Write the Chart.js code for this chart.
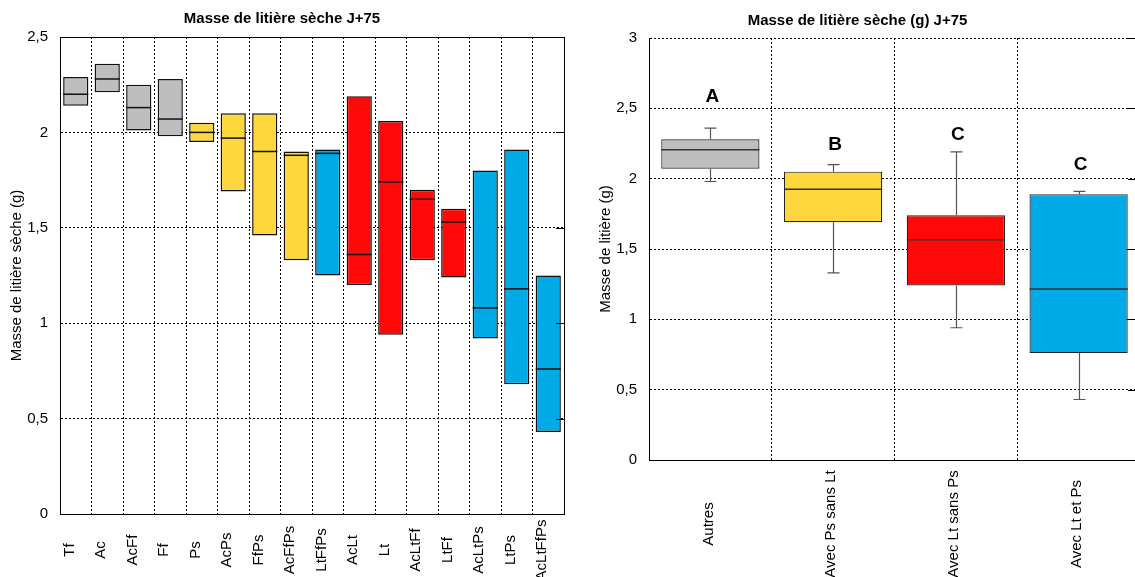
<!DOCTYPE html>
<html lang="fr">
<head>
<meta charset="utf-8">
<script src="https://cdn.jsdelivr.net/npm/chart.js@4.4.0/dist/chart.umd.min.js"></script>
<style>
  html, body { margin: 0; padding: 0; background: #fff; overflow: hidden; width: 1135px; height: 577px; }
  #gauche { position: absolute; left: 0; top: 0; }
  #droite { position: absolute; left: 575px; top: 0; }
</style>
</head>
<body>
<canvas id="gauche" width="575" height="577"></canvas>
<canvas id="droite" width="570" height="577"></canvas>
<script>
// graphique de gauche : min / max / mediane par traitement
const traitements = ['Tf', 'Ac', 'AcFf', 'Ff', 'Ps', 'AcPs', 'FfPs', 'AcFfPs', 'LtFfPs', 'AcLt', 'Lt', 'AcLtFf', 'LtFf', 'AcLtPs', 'LtPs', 'AcLtFfPs'];
const minis = [2.14, 2.21, 2.01, 1.98, 1.95, 1.69, 1.46, 1.33, 1.25, 1.20, 0.94, 1.33, 1.24, 0.92, 0.68, 0.43];
const maxis = [2.29, 2.36, 2.25, 2.28, 2.05, 2.10, 2.10, 1.90, 1.91, 2.19, 2.06, 1.70, 1.60, 1.80, 1.91, 1.25];
const medianes = [2.20, 2.28, 2.13, 2.07, 2.00, 1.97, 1.90, 1.88, 1.89, 1.36, 1.74, 1.65, 1.53, 1.08, 1.18, 0.76];
const groupes = ['gris', 'gris', 'gris', 'gris', 'jaune', 'jaune', 'jaune', 'jaune', 'bleu', 'rouge', 'rouge', 'rouge', 'rouge', 'bleu', 'bleu', 'bleu'];
const ticksGauche = ['0', '0,5', '1', '1,5', '2', '2,5'];

// graphique de droite : boites a moustaches par groupe
const categories = ['Autres', 'Avec Ps sans Lt', 'Avec Lt sans Ps', 'Avec Lt et Ps'];
const moustacheBas = [1.98, 1.33, 0.94, 0.43];
const q1 = [2.07, 1.69, 1.24, 0.76];
const med = [2.205, 1.925, 1.565, 1.215];
const q3 = [2.28, 2.05, 1.74, 1.89];
const moustacheHaut = [2.36, 2.10, 2.19, 1.91];
const lettres = ['A', 'B', 'C', 'C'];
const hauteurLettres = [2.58, 2.24, 2.31, 2.10];
const groupesDroite = ['gris', 'jaune', 'rouge', 'bleu'];
const ticksDroite = ['0', '0,5', '1', '1,5', '2', '2,5', '3'];

const couleurs = { gris: '#bebebe', jaune: '#fdd73c', rouge: '#ff0808', bleu: '#00aae6' };
const police = '"Liberation Sans", Arial, sans-serif';

// etiquettes de l'axe x, tournees et centrees sous l'axe
function etiquettesX(decalY, decalX) {
    return {
        id: 'etiquettesX',
        afterDraw(chart) {
            const ctx = chart.ctx;
            const xs = chart.scales.x;
            ctx.save();
            ctx.font = '15px ' + police;
            ctx.fillStyle = '#000';
            ctx.textAlign = 'center';
            ctx.textBaseline = 'middle';
            chart.data.labels.forEach((lab, i) => {
                ctx.save();
                ctx.translate(xs.getPixelForValue(i) + decalX, chart.chartArea.bottom + decalY);
                ctx.rotate(-Math.PI / 2);
                ctx.fillText(lab, 0, 0);
                ctx.restore();
            });
            ctx.restore();
        }
    };
}

// petits traits de graduation sur le bord droit
function graduationsDroite(longueur) {
    return {
        id: 'graduationsDroite',
        afterDatasetsDraw(chart) {
            const ctx = chart.ctx;
            const a = chart.chartArea;
            ctx.save();
            ctx.strokeStyle = '#000';
            ctx.lineWidth = 1;
            chart.scales.y.ticks.forEach(t => {
                const y = Math.round(chart.scales.y.getPixelForValue(t.value)) + 0.5;
                ctx.beginPath();
                ctx.moveTo(a.right - longueur, y);
                ctx.lineTo(a.right, y);
                ctx.stroke();
            });
            ctx.restore();
        }
    };
}

const medianesGauche = {
    id: 'medianesGauche',
    afterDatasetsDraw(chart) {
        const ctx = chart.ctx;
        const meta = chart.getDatasetMeta(0);
        const ys = chart.scales.y;
        ctx.save();
        ctx.strokeStyle = '#111';
        ctx.lineWidth = 1.5;
        meta.data.forEach((bar, i) => {
            const y = ys.getPixelForValue(medianes[i]);
            ctx.beginPath();
            ctx.moveTo(bar.x - bar.width / 2, y);
            ctx.lineTo(bar.x + bar.width / 2, y);
            ctx.stroke();
        });
        // cadre
        const a = chart.chartArea;
        ctx.strokeStyle = '#000';
        ctx.lineWidth = 1;
        ctx.strokeRect(Math.round(a.left) + 0.5, Math.round(a.top) + 0.5, Math.round(a.width), Math.round(a.height));
        ctx.restore();
    }
};

const moustaches = {
    id: 'moustaches',
    afterDatasetsDraw(chart) {
        const ctx = chart.ctx;
        const meta = chart.getDatasetMeta(0);
        const ys = chart.scales.y;
        ctx.save();
        meta.data.forEach((bar, i) => {
            const x = Math.round(bar.x) + 0.5;
            ctx.strokeStyle = '#555';
            ctx.lineWidth = 1.2;
            ctx.beginPath();
            ctx.moveTo(x, ys.getPixelForValue(q3[i]));
            ctx.lineTo(x, ys.getPixelForValue(moustacheHaut[i]));
            ctx.moveTo(x, ys.getPixelForValue(q1[i]));
            ctx.lineTo(x, ys.getPixelForValue(moustacheBas[i]));
            ctx.moveTo(x - 6, ys.getPixelForValue(moustacheHaut[i]));
            ctx.lineTo(x + 6, ys.getPixelForValue(moustacheHaut[i]));
            ctx.moveTo(x - 6, ys.getPixelForValue(moustacheBas[i]));
            ctx.lineTo(x + 6, ys.getPixelForValue(moustacheBas[i]));
            ctx.stroke();

            ctx.strokeStyle = '#333';
            ctx.lineWidth = 1.5;
            const ym = ys.getPixelForValue(med[i]);
            ctx.beginPath();
            ctx.moveTo(bar.x - bar.width / 2, ym);
            ctx.lineTo(bar.x + bar.width / 2, ym);
            ctx.stroke();

            ctx.fillStyle = '#000';
            ctx.font = 'bold 19px ' + police;
            ctx.textAlign = 'center';
            ctx.textBaseline = 'middle';
            ctx.fillText(lettres[i], bar.x + 2, ys.getPixelForValue(hauteurLettres[i]));
        });
        ctx.restore();
    }
};

function axeY(titre, ticks, max, padTitre, largeur) {
    return {
        min: 0,
        max: max,
        afterFit: s => { s.width = largeur; },
        ticks: {
            stepSize: 0.5,
            padding: 12,
            color: '#000',
            font: { family: police, size: 15 },
            callback: (v, i) => ticks[i]
        },
        grid: { color: '#000', lineWidth: 1, drawTicks: false },
        border: { display: true, color: '#000', width: 1, dash: [2, 2] },
        title: {
            display: true,
            text: titre,
            color: '#000',
            font: { family: police, size: 15 },
            padding: { top: padTitre, bottom: 0 }
        }
    };
}

function axeX(hauteur) {
    return {
        afterFit: s => { s.height = hauteur; },
        ticks: { display: false },
        grid: { color: '#000', lineWidth: 1, drawTicks: false, offset: true },
        border: { display: true, color: '#000', width: 1, dash: [2, 2] }
    };
}

function titre(texte, haut, bas) {
    return {
        display: true,
        text: texte,
        color: '#000',
        font: { family: police, size: 15, weight: 'bold' },
        padding: { top: haut, bottom: bas }
    };
}

new Chart(document.getElementById('gauche'), {
    type: 'bar',
    data: {
        labels: traitements,
        datasets: [{
            data: traitements.map((t, i) => [minis[i], maxis[i]]),
            backgroundColor: groupes.map(g => couleurs[g]),
            borderColor: '#111',
            borderWidth: 1.5,
            borderSkipped: false,
            barPercentage: 0.8,
            categoryPercentage: 1
        }]
    },
    options: {
        responsive: false,
        animation: false,
        devicePixelRatio: 1,
        layout: { padding: { left: 0, right: 11, top: 0, bottom: 0 } },
        plugins: {
            legend: { display: false },
            tooltip: { enabled: false },
            title: titre('Masse de litière sèche J+75', 10, 9)
        },
        scales: {
            x: axeX(63),
            y: axeY('Masse de litière sèche (g)', ticksGauche, 2.5, 8, 60)
        }
    },
    plugins: [medianesGauche, graduationsDroite(8), etiquettesX(36, -6)]
});

new Chart(document.getElementById('droite'), {
    type: 'bar',
    data: {
        labels: categories,
        datasets: [{
            data: categories.map((c, i) => [q1[i], q3[i]]),
            backgroundColor: groupesDroite.map(g => couleurs[g]),
            borderColor: '#222',
            borderWidth: 1.2,
            borderSkipped: false,
            barPercentage: 0.8,
            categoryPercentage: 1
        }]
    },
    options: {
        responsive: false,
        animation: false,
        devicePixelRatio: 1,
        layout: { padding: { left: 0, right: 5, top: 0, bottom: 0 } },
        plugins: {
            legend: { display: false },
            tooltip: { enabled: false },
            title: titre('Masse de litière sèche (g) J+75', 12, 8)
        },
        scales: {
            x: axeX(117),
            y: axeY('Masse de litière (g)', ticksDroite, 3, 22, 74)
        }
    },
    plugins: [moustaches, graduationsDroite(12), etiquettesX(64, -2)]
});
</script>
</body>
</html>
